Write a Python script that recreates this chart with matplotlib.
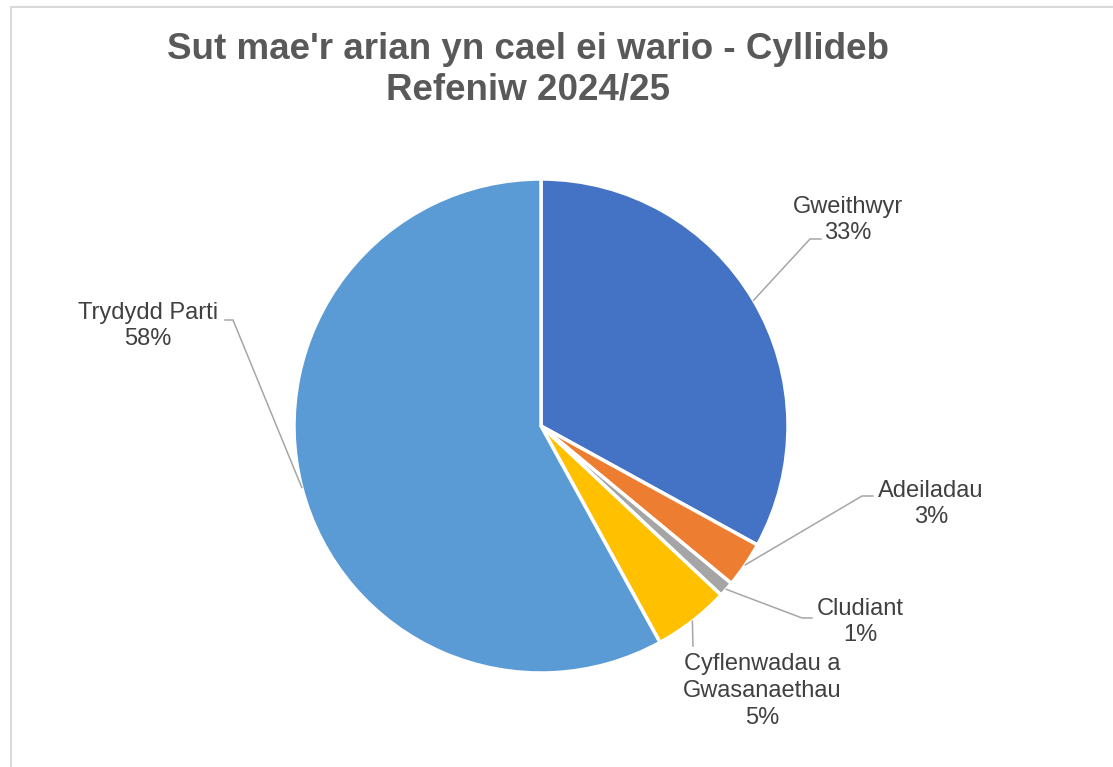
import numpy as np
import matplotlib.pyplot as plt
from matplotlib.patches import Rectangle

plt.rcParams['font.family'] = ['Liberation Sans', 'DejaVu Sans']

# data
categories = ['Gweithwyr', 'Adeiladau', 'Cludiant',
              'Cyflenwadau a\nGwasanaethau', 'Trydydd Parti']
shares = [33, 3, 1, 5, 58]
colors = ['#4472C4', '#ED7D31', '#A5A5A5', '#FFC000', '#5B9BD5']
title = "Sut mae'r arian yn cael ei wario - Cyllideb\nRefeniw 2024/25"

# layout (pixels of the 1113x767 canvas)
W, H = 1113, 767
CX, CY, R = 541, 426, 247
label_pos = [(848, 220), (931, 504), (860, 622), (762, 691), (148, 326)]
elbows = [(810, 239), (862, 496), (802, 618), (693, 646), (233, 320)]
ends = [(821, 239), (873, 496), (812, 618), (693, 646), (225, 320)]


def to_data(p):
    return ((p[0] - CX) / R, (CY - p[1]) / R)


fig = plt.figure(figsize=(W / 100, H / 100), dpi=100)
ax = fig.add_axes([(CX - R) / W, (H - CY - R) / H, 2 * R / W, 2 * R / H])

wedges, _ = ax.pie(shares, colors=colors, startangle=90, counterclock=False,
                   radius=1, wedgeprops=dict(edgecolor='white', linewidth=2.5))
# pie() resets the limits, so set them afterwards
ax.set_xlim(-1, 1)
ax.set_ylim(-1, 1)
ax.set_aspect('equal')
ax.axis('off')

for w, cat, val, lp, el, en in zip(wedges, categories, shares,
                                   label_pos, elbows, ends):
    mid = np.deg2rad((w.theta1 + w.theta2) / 2)
    start = (np.cos(mid), np.sin(mid))
    e1, e2 = to_data(el), to_data(en)
    ax.plot([start[0], e1[0], e2[0]], [start[1], e1[1], e2[1]],
            color='#A6A6A6', lw=1.1, clip_on=False)
    tx, ty = to_data(lp)
    ax.text(tx, ty, f'{cat}\n{val}%', ha='center', va='center',
            multialignment='center', fontsize=17, color='#404040',
            linespacing=1.27, clip_on=False)

fig.text(528 / W, 1 - 70 / H, title, ha='center', va='center',
         fontsize=26.5, fontweight='bold', color='#595959', linespacing=1.22)

# chart area border (only top and left visible)
fig.patches.append(Rectangle((10.5 / W, -0.1), 1.2, 1.1 - 6.5 / H,
                             transform=fig.transFigure, fill=False,
                             edgecolor='#D9D9D9', lw=1.5))

fig.savefig('out.png', dpi=100, facecolor='white')
